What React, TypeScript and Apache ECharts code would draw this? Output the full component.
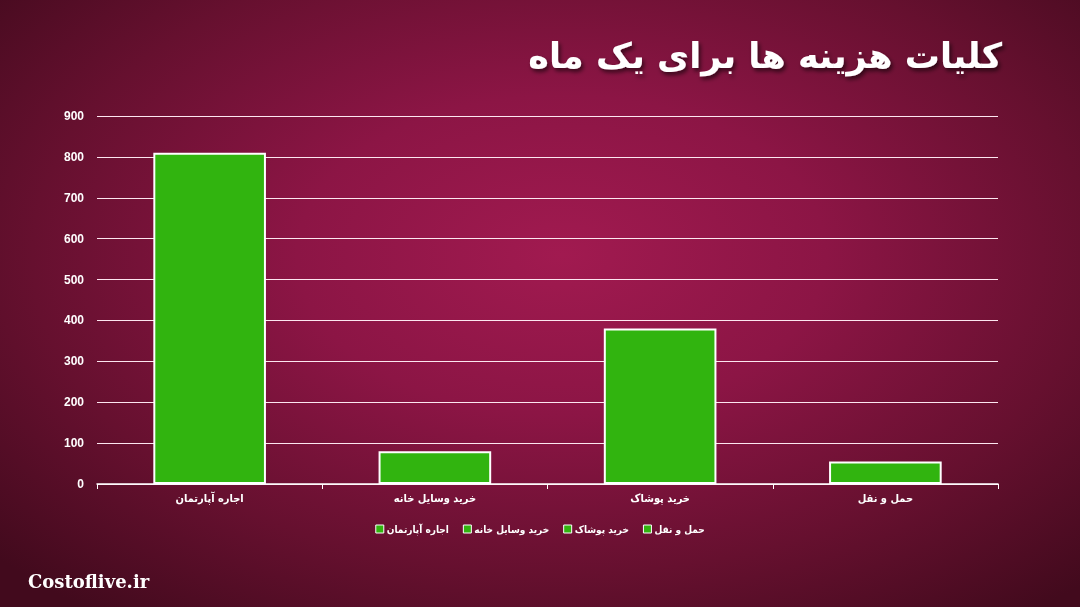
import React, { useEffect, useRef } from "react";
import * as echarts from "echarts";

const categories = ["اجاره آپارتمان", "خرید وسایل خانه", "خرید پوشاک", "حمل و نقل"];
const values = [810, 80, 380, 55];
const yTicks = { min: 0, max: 900, interval: 100 };
const titleText = "کلیات هزینه ها برای یک ماه";
const watermark = "Costoflive.ir";

const GREEN = "#31b40f";
const FONT = "'Liberation Sans', 'DejaVu Sans Condensed', 'DejaVu Sans', sans-serif";
const FONT_AR = "'DejaVu Sans Condensed', 'DejaVu Sans', sans-serif";

export default function App() {
  const ref = useRef<HTMLDivElement>(null);
  useEffect(() => {
    if (!ref.current) return;
    const chart = echarts.init(ref.current, null, { renderer: "svg" });
    const series = categories.map((name, i) => ({
      name,
      type: "bar",
      stack: "total",
      barWidth: "50%",
      data: categories.map((_, j) => (j === i ? values[i] : "-")),
      itemStyle: { color: GREEN, borderColor: "#ffffff", borderWidth: 2 },
    }));
    chart.setOption({
      animation: false,
      backgroundColor: "transparent",
      title: {
        text: titleText,
        right: 73,
        top: 33,
        textStyle: {
          color: "#ffffff",
          fontSize: 35,
          fontWeight: "bold",
          fontFamily: "'DejaVu Sans', sans-serif",
          textShadowColor: "rgba(0,0,0,0.6)",
          textShadowBlur: 4,
          textShadowOffsetX: 2,
          textShadowOffsetY: 3,
        },
      },
      legend: {
        bottom: 68,
        left: "center",
        itemWidth: 8,
        itemHeight: 8,
        itemGap: 14,
        icon: "rect",
        data: categories,
        textStyle: { color: "#ffffff", fontSize: 10, fontWeight: "bold", fontFamily: FONT_AR, padding: [0, 0, 0, -2] },
        itemStyle: { color: GREEN, borderColor: "#ffffff", borderWidth: 1 },
      },
      grid: { left: 97, right: 82, top: 116, bottom: 123, containLabel: false },
      xAxis: {
        type: "category",
        data: categories,
        axisLine: { lineStyle: { color: "#ffffff", width: 1.5 } },
        axisTick: { show: true, length: 5, lineStyle: { color: "#ffffff" } },
        axisLabel: { color: "#ffffff", fontSize: 11, fontWeight: "bold", fontFamily: FONT_AR, margin: 9 },
      },
      yAxis: {
        type: "value",
        min: yTicks.min,
        max: yTicks.max,
        interval: yTicks.interval,
        axisLine: { show: false },
        axisTick: { show: false },
        splitLine: { lineStyle: { color: "#fde6f0", width: 1.2 } },
        axisLabel: { color: "#ffffff", fontSize: 12, fontWeight: "bold", fontFamily: FONT, margin: 13 },
      },
      graphic: [
        {
          type: "text",
          left: 28,
          top: 572,
          style: {
            text: watermark,
            fill: "#ffffff",
            fontSize: 18,
            fontWeight: "bold",
            fontFamily: "'DejaVu Serif', serif",
          },
        },
      ],
      series,
    });
    return () => chart.dispose();
  }, []);
  return (
    <div
      ref={ref}
      style={{
        position: "fixed",
        left: 0,
        top: 0,
        width: 1080,
        height: 607,
        background:
          "radial-gradient(ellipse 70% 75% at 52% 42%, #a11a50 0%, #8c1545 35%, #66102f 70%, #420a1d 100%)",
      }}
    />
  );
}
